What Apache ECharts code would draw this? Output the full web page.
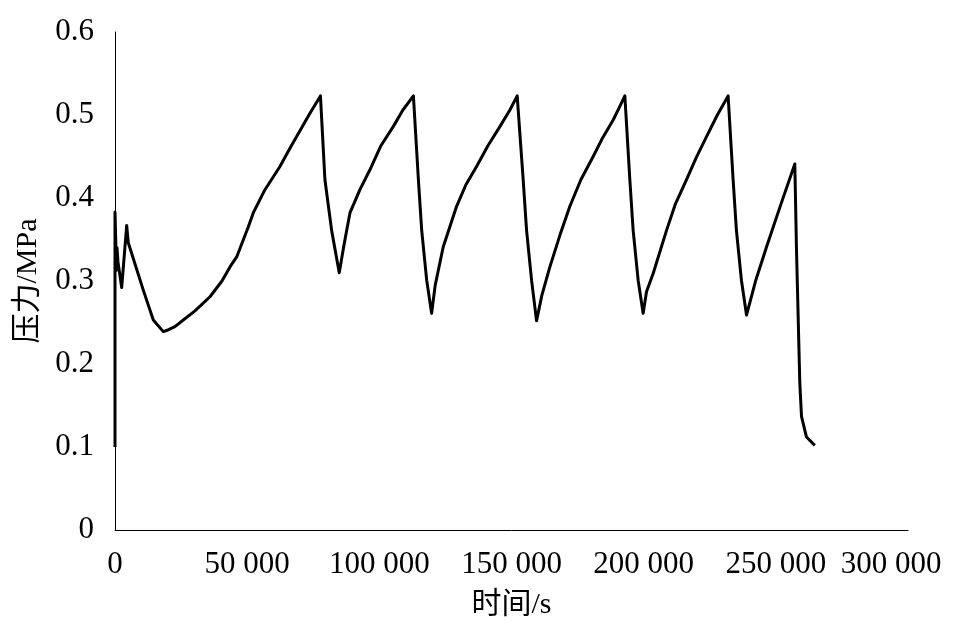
<!DOCTYPE html>
<html>
<head>
<meta charset="utf-8">
<script src="https://cdn.jsdelivr.net/npm/echarts@6/dist/echarts.min.js"></script>
<style>html,body{margin:0;padding:0;background:#fff}#c{width:954px;height:635px}</style>
</head>
<body>
<div id="c"></div>
<script>
const timeS = [0, 0, 570, 760, 1130, 2530, 4420, 5030, 10700, 14490, 18270, 20050, 22690, 25830, 30260, 35930, 40470, 43490, 46030, 50410, 52300, 56730, 62400, 66185, 69970, 73750, 77720,
  79420, 81950, 84830,
  86610, 88880, 92660, 96440, 100600, 105250, 108920, 112890,
  114780, 116030, 117920, 119780,
  121140, 124160, 129230, 132750, 136790, 141070, 145600, 149390, 152150,
  154420, 155700, 157590, 159480,
  161500, 164520, 168300, 172080, 176240, 180900, 184560, 188460, 190610, 192880,
  194770, 196020, 197910, 199800,
  201070, 203590, 208650, 212030, 216210, 219930, 223780, 227870, 231950,
  233840, 235090, 236980, 238910,
  242420, 246470, 251870, 257180,
  257820, 259070, 259710, 261600, 264740];
const pressure = [0.100, 0.383, 0.313, 0.340, 0.323, 0.292, 0.367, 0.346, 0.289, 0.253, 0.239, 0.241, 0.245, 0.253, 0.264, 0.281, 0.300, 0.317, 0.329, 0.365, 0.382, 0.410, 0.438, 0.460, 0.481, 0.502, 0.523,
  0.422, 0.361, 0.310,
  0.343, 0.382, 0.410, 0.434, 0.463, 0.486, 0.506, 0.523,
  0.422, 0.361, 0.301, 0.261,
  0.295, 0.341, 0.390, 0.416, 0.438, 0.463, 0.486, 0.506, 0.523,
  0.422, 0.361, 0.301, 0.252,
  0.283, 0.317, 0.355, 0.390, 0.422, 0.450, 0.473, 0.494, 0.508, 0.523,
  0.422, 0.361, 0.301, 0.261,
  0.287, 0.309, 0.361, 0.393, 0.422, 0.449, 0.474, 0.500, 0.523,
  0.422, 0.361, 0.301, 0.259,
  0.301, 0.341, 0.392, 0.441,
  0.337, 0.177, 0.137, 0.112, 0.102];
const xName = '时间/s';
const yName = '压力/MPa';

const font = "'Liberation Serif', 'Noto Sans CJK SC', serif";
const fmtX = v => String(v).replace(/\B(?=(\d{3})+(?!\d))/g, ' ');
const chart = echarts.init(document.getElementById('c'));
chart.setOption({
  animation: false,
  backgroundColor: '#fff',
  grid: { left: 115, right: 46, top: 32, bottom: 105, containLabel: false, outerBoundsMode: 'none' },
  xAxis: {
    type: 'value', min: 0, max: 300000, interval: 50000,
    name: xName, nameLocation: 'middle', nameGap: 60,
    nameTextStyle: { fontFamily: font, fontSize: 30, color: '#000' },
    axisLine: { show: true, lineStyle: { color: '#000', width: 1 } },
    axisTick: { show: false },
    splitLine: { show: false },
    axisLabel: { fontFamily: font, fontSize: 31, color: '#000', margin: 19, hideOverlap: false,
      formatter: v => v === 300000 ? '{m|' + fmtX(v) + '}' : fmtX(v),
      rich: { m: { fontFamily: font, fontSize: 31, color: '#000', padding: [0, 34, 0, 0] } } }
  },
  yAxis: {
    type: 'value', min: 0, max: 0.6, interval: 0.1,
    name: yName, nameLocation: 'middle', nameGap: 72, nameRotate: 90,
    nameTextStyle: { fontFamily: font, fontSize: 30, color: '#000' },
    axisLine: { show: true, lineStyle: { color: '#000', width: 1 } },
    axisTick: { show: false },
    splitLine: { show: false },
    axisLabel: { fontFamily: font, fontSize: 31, color: '#000', margin: 21,
      formatter: v => v === 0 ? '0' : v.toFixed(1) }
  },
  series: [{
    type: 'line',
    data: timeS.map((t, i) => [t, pressure[i]]),
    showSymbol: false,
    smooth: false,
    lineStyle: { color: '#000', width: 3, join: 'round' },
    itemStyle: { color: '#000' }
  }]
});
</script>
</body>
</html>
